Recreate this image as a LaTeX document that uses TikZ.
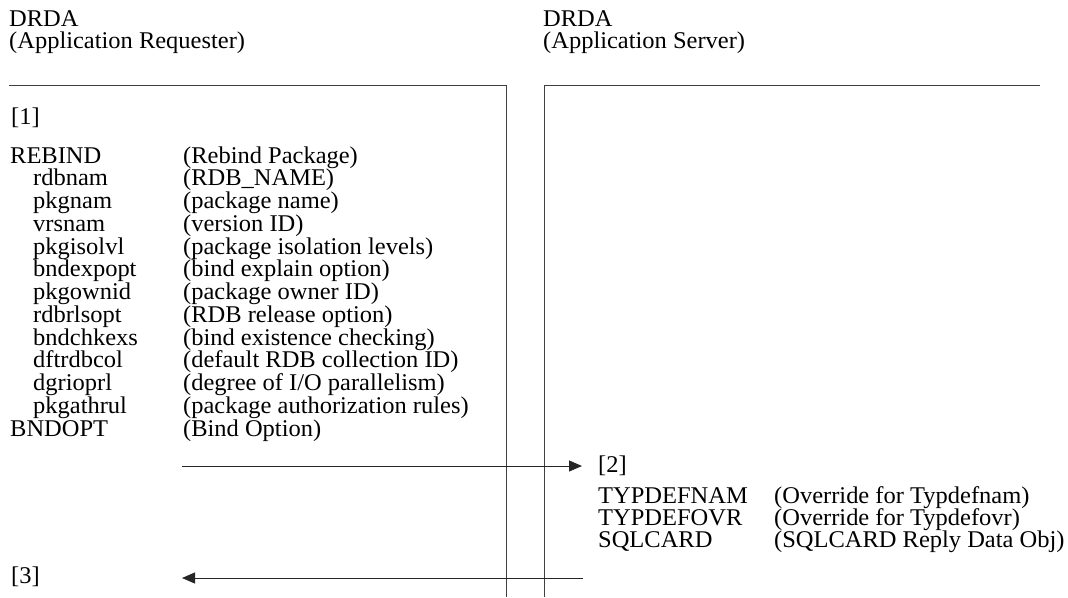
\documentclass[tikz,border=0pt]{standalone}
\usepackage{fontspec}
\setmainfont{Liberation Serif}[FakeStretch=1.02]
\usetikzlibrary{arrows.meta}
\begin{document}
\begin{tikzpicture}[x=1pt,y=-1pt,
  txt/.style={anchor=base west,inner sep=0pt,font=\fontsize{24}{22}\selectfont},
  frame/.style={line width=1pt,draw=black!75},
  msg/.style={line width=1pt,draw=black!85,-{Triangle[length=13pt,width=11pt]}}]
\useasboundingbox (0,0) rectangle (1068,597);
% headers
\node[txt] (hl1) at (9,27) {DRDA};
\node[txt] (hl2) at (9,48) {(Application Requester)};
\node[txt] (hr1) at (543,27) {DRDA};
\node[txt] (hr2) at (543,48) {(Application Server)};
% frames
\coordinate (l0) at (9,85);
\coordinate (l1) at (506,85);
\coordinate (l2) at (506,597);
\coordinate (r0) at (1040,85);
\coordinate (r1) at (544,85);
\coordinate (r2) at (544,597);
\draw[frame] (l0) -- (l1) -- (l2);
\draw[frame] (r0) -- (r1) -- (r2);
% left content
\node[txt] (n1) at (11,124) {[1]};
\foreach \i/\a/\b/\ind in {
 0/REBIND/{(Rebind Package)}/0,
 1/rdbnam/{(RDB\_NAME)}/1,
 2/pkgnam/{(package name)}/1,
 3/vrsnam/{(version ID)}/1,
 4/pkgisolvl/{(package isolation levels)}/1,
 5/bndexpopt/{(bind explain option)}/1,
 6/pkgownid/{(package owner ID)}/1,
 7/rdbrlsopt/{(RDB release option)}/1,
 8/bndchkexs/{(bind existence checking)}/1,
 9/dftrdbcol/{(default RDB collection ID)}/1,
 10/dgrioprl/{(degree of I/O parallelism)}/1,
 11/pkgathrul/{(package authorization rules)}/1,
 12/BNDOPT/{(Bind Option)}/0}{
  \node[txt] (ka\i) at ({10+23*\ind},{163+22.75*\i}) {\a};
  \node[txt] (kb\i) at (183,{163+22.75*\i}) {\b};
}
% request arrow
\coordinate (a1s) at (182,466);
\coordinate (a1e) at (582,466);
\draw[msg] (a1s) -- (a1e);
\node[txt] (n2) at (598,472) {[2]};
\foreach \i/\a/\b in {0/TYPDEFNAM/{(Override for Typdefnam)},
 1/TYPDEFOVR/{(Override for Typdefovr)},
 2/SQLCARD/{(SQLCARD Reply Data Obj)}}{
  \node[txt] (ra\i) at (598,{503+22*\i}) {\a};
  \node[txt] (rb\i) at (774,{503+22*\i}) {\b};
}
% reply arrow
\node[txt] (n3) at (11,583) {[3]};
\coordinate (a2s) at (583,578);
\coordinate (a2e) at (182,578);
\draw[msg] (a2s) -- (a2e);
\end{tikzpicture}
\end{document}
